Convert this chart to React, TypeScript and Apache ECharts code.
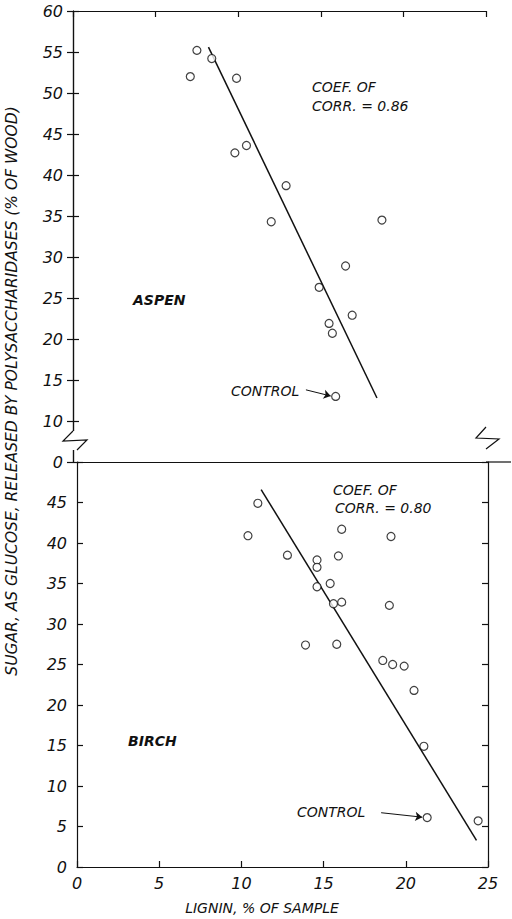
import React, { useEffect, useRef } from "react";
import * as echarts from "echarts";

// ---------- data ----------
const aspenLignin = [7.1, 7.5, 8.4, 9.9, 9.8, 10.5, 12.9, 12.0, 18.7, 16.5, 14.9, 16.9, 15.5, 15.7];
const aspenSugar = [52.0, 55.2, 54.2, 51.8, 42.7, 43.6, 38.7, 34.3, 34.5, 28.9, 26.3, 22.9, 21.9, 20.7];
const aspenControl = [15.9, 13.0];
const aspenFitLignin = [8.2, 18.4];
const aspenFitSugar = [55.6, 12.8];

const birchLignin = [10.4, 11.0, 16.1, 19.1, 12.8, 14.6, 14.6, 15.9, 15.4, 14.6, 15.6, 16.1, 19.0, 13.9, 15.8, 18.6, 19.2, 19.9, 20.5, 21.1, 24.4];
const birchSugar = [40.9, 44.9, 41.7, 40.8, 38.5, 37.9, 37.0, 38.4, 35.0, 34.6, 32.5, 32.7, 32.3, 27.4, 27.5, 25.5, 25.0, 24.8, 21.8, 14.9, 5.7];
const birchControl = [21.3, 6.1];
const birchFitLignin = [11.2, 24.3];
const birchFitSugar = [46.6, 3.3];

const ligninTicks = [0, 5, 10, 15, 20, 25];
const aspenAxis = { min: 5, max: 60, step: 5 }; // lowest tick shown as "0" (broken axis)
const birchAxis = { min: 0, max: 50, step: 5 };

const FONT = "DejaVu Sans";
const INK = "#111";

const pairs = (xs: number[], ys: number[]) => xs.map((x, i) => [x, ys[i]]);

export default function App() {
  const ref = useRef<HTMLDivElement>(null);
  useEffect(() => {
    if (!ref.current) return;
    const chart = echarts.init(ref.current, undefined, { renderer: "svg" });

    const tickLabel = { fontFamily: FONT, fontStyle: "italic", fontSize: 16, color: INK };
    const axisLine = { show: true, lineStyle: { color: INK, width: 1.2 } };
    const tick = { show: true, inside: true, length: 6, lineStyle: { color: INK, width: 1.2 } };

    const pointStyle = { color: "#fff", borderColor: INK, borderWidth: 1.2 };
    const arrow = (from: number[], to: number[]) => ({
      silent: true, symbol: ["none", "arrow"], symbolSize: 7,
      label: { show: false },
      lineStyle: { color: INK, width: 1, type: "solid" },
      data: [[{ coord: from }, { coord: to }]],
    });

    chart.setOption({
      animation: false,
      backgroundColor: "#fff",
      grid: [
        { left: 73, top: 11, width: 413, height: 451 },
        { left: 77, top: 462, width: 411, height: 405 },
      ],
      xAxis: [
        {
          gridIndex: 0, type: "value", position: "bottom",
          min: ligninTicks[0], max: ligninTicks[ligninTicks.length - 1], interval: 5,
          axisLine, axisTick: { show: false }, axisLabel: { show: false }, splitLine: { show: false },
        },
        {
          gridIndex: 0, type: "value", position: "top",
          min: ligninTicks[0], max: ligninTicks[ligninTicks.length - 1], interval: 5,
          axisLine, axisTick: tick, axisLabel: { show: false }, splitLine: { show: false },
        },
        {
          gridIndex: 1, type: "value", position: "bottom",
          min: ligninTicks[0], max: ligninTicks[ligninTicks.length - 1], interval: 5,
          axisLine, axisTick: tick, splitLine: { show: false },
          axisLabel: { ...tickLabel, margin: 8, formatter: (v: number) => String(v) },
        },
      ],
      yAxis: [
        {
          gridIndex: 0, type: "value", position: "left",
          min: aspenAxis.min, max: aspenAxis.max, interval: aspenAxis.step,
          axisLine, axisTick: tick, splitLine: { show: false },
          axisLabel: {
            ...tickLabel, margin: 10,
            formatter: (v: number) => (v === aspenAxis.min ? "0" : String(v)),
          },
        },
        {
          gridIndex: 0, type: "value", position: "right",
          min: aspenAxis.min, max: aspenAxis.max, interval: aspenAxis.step,
          axisLine, axisTick: tick, axisLabel: { show: false }, splitLine: { show: false },
        },
        {
          gridIndex: 1, type: "value", position: "left",
          min: birchAxis.min, max: birchAxis.max, interval: birchAxis.step,
          axisLine, axisTick: tick, splitLine: { show: false },
          axisLabel: {
            ...tickLabel, margin: 10,
            formatter: (v: number) => (v === birchAxis.max ? "" : String(v)),
          },
        },
        {
          gridIndex: 1, type: "value", position: "right",
          min: birchAxis.min, max: birchAxis.max, interval: birchAxis.step,
          axisLine, axisTick: tick, axisLabel: { show: false }, splitLine: { show: false },
        },
      ],
      series: [
        {
          type: "line", xAxisIndex: 0, yAxisIndex: 0,
          data: pairs(aspenFitLignin, aspenFitSugar),
          showSymbol: false, symbol: "none",
          lineStyle: { color: INK, width: 1.5 }, z: 2,
        },
        {
          type: "scatter", xAxisIndex: 0, yAxisIndex: 0,
          data: pairs(aspenLignin, aspenSugar),
          symbol: "circle", symbolSize: 8, itemStyle: pointStyle, z: 3,
        },
        {
          type: "scatter", xAxisIndex: 0, yAxisIndex: 0,
          data: [aspenControl],
          symbol: "circle", symbolSize: 8, itemStyle: pointStyle, z: 3,
          markLine: arrow([14.1, 13.8], [15.6, 13.05]),
        },
        {
          type: "line", xAxisIndex: 2, yAxisIndex: 2,
          data: pairs(birchFitLignin, birchFitSugar),
          showSymbol: false, symbol: "none",
          lineStyle: { color: INK, width: 1.5 }, z: 2,
        },
        {
          type: "scatter", xAxisIndex: 2, yAxisIndex: 2,
          data: pairs(birchLignin, birchSugar),
          symbol: "circle", symbolSize: 8, itemStyle: pointStyle, z: 3,
        },
        {
          type: "scatter", xAxisIndex: 2, yAxisIndex: 2,
          data: [birchControl],
          symbol: "circle", symbolSize: 8, itemStyle: pointStyle, z: 3,
          markLine: arrow([18.5, 6.7], [21.0, 6.15]),
        },
      ],
    });

    const annot = (text: string, x: number, y: number, size = 14, weight = "normal") => ({
      type: "text", x, y, z: 10,
      style: {
        text, fill: INK, font: `italic ${weight} ${size}px "${FONT}"`,
        textVerticalAlign: "middle",
      },
    });

    chart.setOption({
      graphic: [
        // divider extension to the right edge
        { type: "line", shape: { x1: 486, y1: 462, x2: 511, y2: 462 }, style: { stroke: INK, lineWidth: 1.2 }, z: 5 },
        // axis breaks
        { type: "rect", shape: { x: 70, y: 431, width: 8, height: 19 }, style: { fill: "#fff" }, z: 6 },
        { type: "polyline", shape: { points: [[73, 431], [63, 441], [87, 440], [77, 450]] }, style: { stroke: INK, lineWidth: 1.2, fill: "none" }, z: 7 },
        { type: "rect", shape: { x: 482, y: 427, width: 8, height: 22 }, style: { fill: "#fff" }, z: 6 },
        { type: "polyline", shape: { points: [[486, 427], [476, 438], [499, 439], [486, 449]] }, style: { stroke: INK, lineWidth: 1.2, fill: "none" }, z: 7 },
        // annotations
        annot("COEF. OF", 312, 87),
        annot("CORR. = 0.86", 312, 106),
        annot("ASPEN", 133, 300, 14, "bold"),
        annot("CONTROL", 231, 391),
        annot("COEF. OF", 333, 490),
        annot("CORR. = 0.80", 335, 508),
        annot("BIRCH", 128, 741, 14, "bold"),
        annot("CONTROL", 297, 812),
        {
          type: "text", x: 12, y: 391, rotation: Math.PI / 2, z: 10,
          style: {
            text: "SUGAR, AS GLUCOSE, RELEASED BY POLYSACCHARIDASES (% OF WOOD)",
            fill: INK, font: `italic 15.5px "${FONT}"`,
            textAlign: "center", textVerticalAlign: "middle",
          },
        },
        {
          type: "text", x: 262, y: 908, z: 10,
          style: {
            text: "LIGNIN, % OF SAMPLE",
            fill: INK, font: `italic 14px "${FONT}"`,
            textAlign: "center", textVerticalAlign: "middle",
          },
        },
      ],
    });

    return () => chart.dispose();
  }, []);

  return (
    <div
      ref={ref}
      style={{ position: "fixed", left: 0, top: 0, width: 512, height: 919, background: "#fff" }}
    />
  );
}
